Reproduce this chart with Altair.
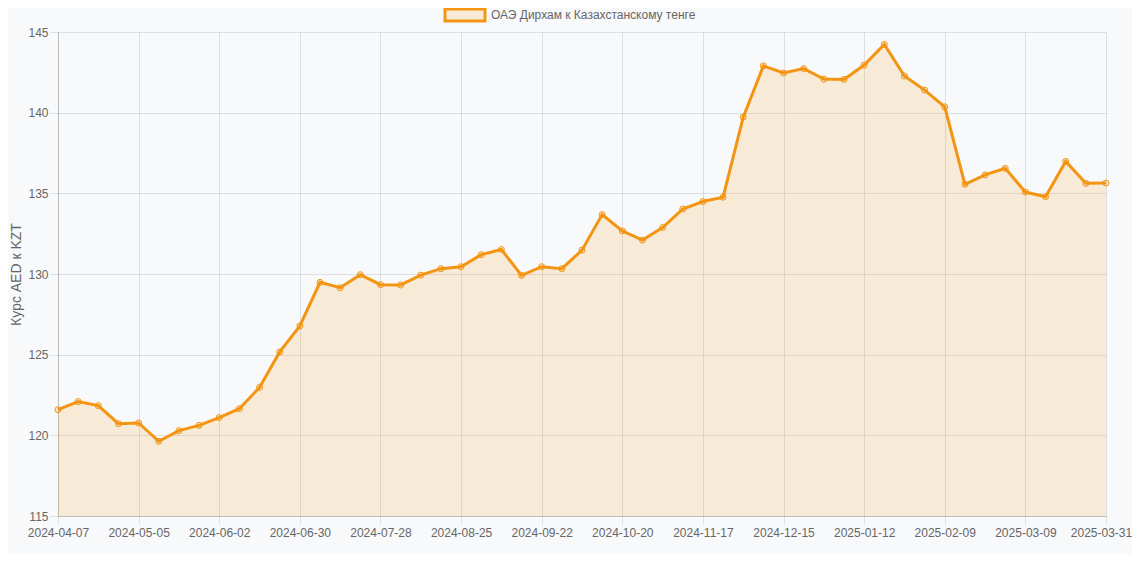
import altair as alt
import pandas as pd

dates = [
    "2024-04-07", "2024-04-14", "2024-04-21", "2024-04-28", "2024-05-05", "2024-05-12",
    "2024-05-19", "2024-05-26", "2024-06-02", "2024-06-09", "2024-06-16", "2024-06-23",
    "2024-06-30", "2024-07-07", "2024-07-14", "2024-07-21", "2024-07-28", "2024-08-04",
    "2024-08-11", "2024-08-18", "2024-08-25", "2024-09-01", "2024-09-08", "2024-09-15",
    "2024-09-22", "2024-09-29", "2024-10-06", "2024-10-13", "2024-10-20", "2024-10-27",
    "2024-11-03", "2024-11-10", "2024-11-17", "2024-11-24", "2024-12-01", "2024-12-08",
    "2024-12-15", "2024-12-22", "2024-12-29", "2025-01-05", "2025-01-12", "2025-01-19",
    "2025-01-26", "2025-02-02", "2025-02-09", "2025-02-16", "2025-02-23", "2025-03-02",
    "2025-03-09", "2025-03-16", "2025-03-23", "2025-03-30", "2025-03-31",
]
rates = [
    121.59, 122.09, 121.84, 120.72, 120.77, 119.63, 120.29, 120.62, 121.10, 121.65,
    122.97, 125.17, 126.78, 129.48, 129.15, 129.96, 129.34, 129.32, 129.93, 130.33,
    130.45, 131.20, 131.52, 129.91, 130.45, 130.33, 131.48, 133.68, 132.67, 132.10,
    132.88, 134.03, 134.49, 134.76, 139.72, 142.90, 142.46, 142.73, 142.08, 142.06,
    142.95, 144.23, 142.27, 141.40, 140.36, 135.56, 136.14, 136.55, 135.08, 134.79,
    136.98, 135.62, 135.64,
]
tick_labels = [
    "2024-04-07", "2024-05-05", "2024-06-02", "2024-06-30", "2024-07-28", "2024-08-25",
    "2024-09-22", "2024-10-20", "2024-11-17", "2024-12-15", "2025-01-12", "2025-02-09",
    "2025-03-09", "2025-03-31",
]
y_ticks = [115, 120, 125, 130, 135, 140, 145]
series_name = "ОАЭ Дирхам к Казахстанскому тенге"
y_title = "Курс AED к KZT"

ORANGE = "#f39512"
FONT = "Liberation Sans"
TXT = "#666666"

df = pd.DataFrame({"date": dates, "rate": rates})

x = alt.X(
    "date:N",
    sort=None,
    scale=alt.Scale(type="point", padding=0),
    axis=alt.Axis(
        values=tick_labels, labelAngle=0, title=None, grid=True,
        gridColor="#000", gridOpacity=0.1, tickColor="#000", tickOpacity=0.1,
        tickSize=8, labelPadding=3, labelFont=FONT, labelFontSize=12,
        labelColor=TXT, domainColor="#000", domainOpacity=0.15,
        labelOverlap=False,
        labelOffset={"condition": {"test": f"datum.value === '{tick_labels[-1]}'", "value": -5}, "value": 0},
    ),
)
y = alt.Y(
    "rate:Q",
    scale=alt.Scale(domain=[115, 145], zero=False, nice=False),
    axis=alt.Axis(
        values=y_ticks, title=y_title, grid=True, gridColor="#000",
        gridOpacity=0.1, tickColor="#000", tickOpacity=0.1, tickSize=8,
        labelPadding=2, labelFont=FONT, labelFontSize=12, labelColor=TXT,
        titleFont=FONT, titleFontSize=14, titleColor=TXT, titleFontWeight="normal",
        titleAngle=-90, titleX=-42, titleY=242, titleBaseline="middle",
        domainColor="#000", domainOpacity=0.15,
    ),
)

base = alt.Chart(df)
area = base.mark_area(color=ORANGE, opacity=0.15).encode(x=x, y=y, y2=alt.datum(115))
line = base.mark_line(color=ORANGE, strokeWidth=3).encode(x=x, y=y)
pts = base.mark_point(
    shape="circle", size=36, stroke=ORANGE, strokeWidth=1, fill=ORANGE,
    fillOpacity=0.15, opacity=1, filled=False,
).encode(x=x, y=y)

leg_box = alt.Chart(df).mark_rect(
    fill=ORANGE, fillOpacity=0.15, stroke=ORANGE, strokeWidth=3
).encode(
    x=alt.value(387), x2=alt.value(427), y=alt.value(-23), y2=alt.value(-11)
).transform_filter(alt.datum.date == dates[0])
leg_text = alt.Chart(df).mark_text(
    text=series_name, align="left", baseline="middle", font=FONT,
    fontSize=12, color=TXT,
).encode(x=alt.value(433), y=alt.value(-17)).transform_filter(alt.datum.date == dates[0])

chart = alt.layer(area, line, pts, leg_box, leg_text).properties(
    width=1048, height=484,
    padding={"left": 50, "top": 24, "right": 26, "bottom": 38},
    autosize="none",
    background="#f8f9fa",
).configure_view(stroke=None)

chart.save("out.html", embed_options={"renderer": "svg", "actions": False})
